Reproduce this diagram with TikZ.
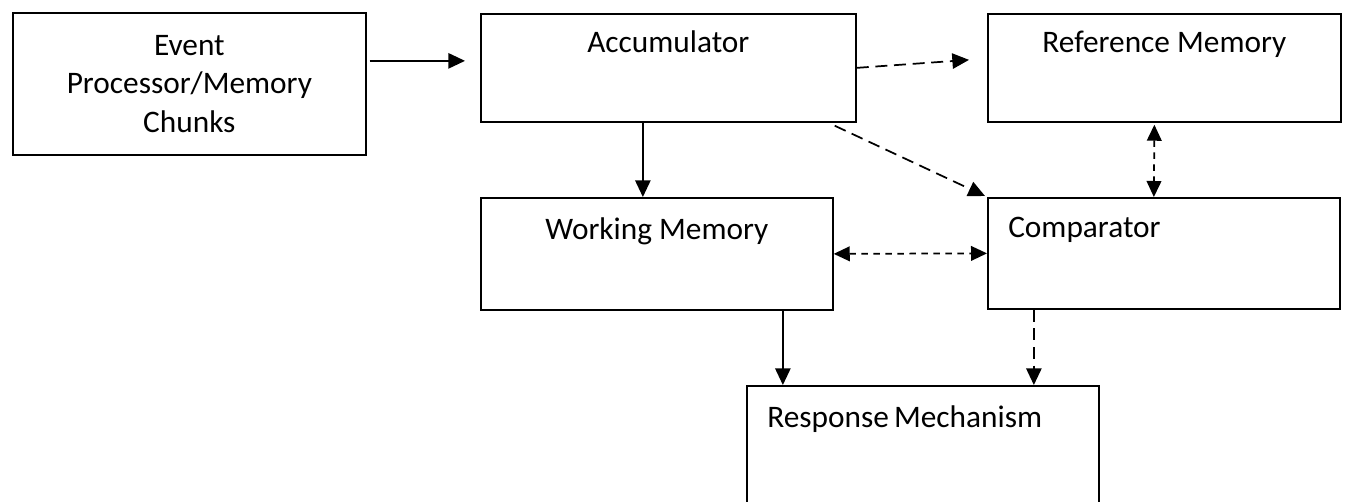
\documentclass[tikz,border=0pt]{standalone}
\usepackage{fontspec}
\setmainfont{Carlito}
\usetikzlibrary{arrows.meta,calc}
\begin{document}
\begin{tikzpicture}[x=0.75pt,y=-0.75pt,
  box/.style={draw=black, line width=1.3pt, rectangle, inner sep=0pt, anchor=north west},
  lbl/.style={font=\fontsize{23.5}{29}\selectfont, inner sep=0pt},
  arr/.style={line width=1.3pt, -{Triangle[length=12.5pt,width=11.5pt]}},
  darr/.style={line width=1.3pt, {Triangle[length=12pt,width=11pt]}-{Triangle[length=12pt,width=11pt]}},
  longdash/.style={dash pattern=on 9pt off 5pt},
  shortdash/.style={dash pattern=on 5pt off 4pt}]
\useasboundingbox (0,0) rectangle (1348,502);
\clip (0,0) rectangle (1348,502);

\node[box, minimum width=264.75pt, minimum height=106.5pt] (ev) at (12,12) {};
\node[box, minimum width=281.25pt, minimum height=81pt] (acc) at (480,13) {};
\node[box, minimum width=264.75pt, minimum height=81pt] (ref) at (987,13) {};
\node[box, minimum width=264pt, minimum height=84pt] (wm) at (480,197) {};
\node[box, minimum width=264pt, minimum height=83.25pt] (cmp) at (987,197) {};
\node[box, minimum width=264pt, minimum height=96pt] (resp) at (746,385) {};

\node[lbl, align=center] (ev-t) at (ev.center) {Event\\Processor/Memory\\Chunks};
\node[lbl, anchor=base] (acc-t) at ([shift={(0,40)}]acc.north) {Accumulator};
\node[lbl, anchor=base] (ref-t) at ([shift={(0,40)}]ref.north) {Reference Memory};
\node[lbl, anchor=base] (wm-t) at ([shift={(0,43)}]wm.north) {Working Memory};
\node[lbl, anchor=base west] (cmp-t) at ([shift={(21,41)}]cmp.north west) {Comparator};
\node[lbl, anchor=base west] (resp-t) at ([shift={(21,42)}]resp.north west) {Response\,Mechanism};

\draw[arr] ([shift={(3,-23)}]ev.east) -- ([shift={(-15,-7)}]acc.west);
\draw[arr, longdash] (acc.east) -- ([shift={(-18,-8)}]ref.west);
\draw[arr] ([shift={(-25.5,0)}]acc.south) -- ([shift={(-14,0)}]wm.north);
\draw[arr, longdash] ([shift={(-22,3)}]acc.south east) -- ([shift={(-2,-1)}]cmp.north west);
\draw[darr, shortdash] ([shift={(-10,2)}]ref.south) -- ([shift={(-10,0)}]cmp.north);
\draw[darr, shortdash] (wm.east) -- (cmp.west);
\draw[arr] ([shift={(126,0)}]wm.south) -- ([shift={(-140,0)}]resp.north);
\draw[arr, longdash] ([shift={(-130,0)}]cmp.south) -- ([shift={(111,0)}]resp.north);
\end{tikzpicture}
\end{document}
